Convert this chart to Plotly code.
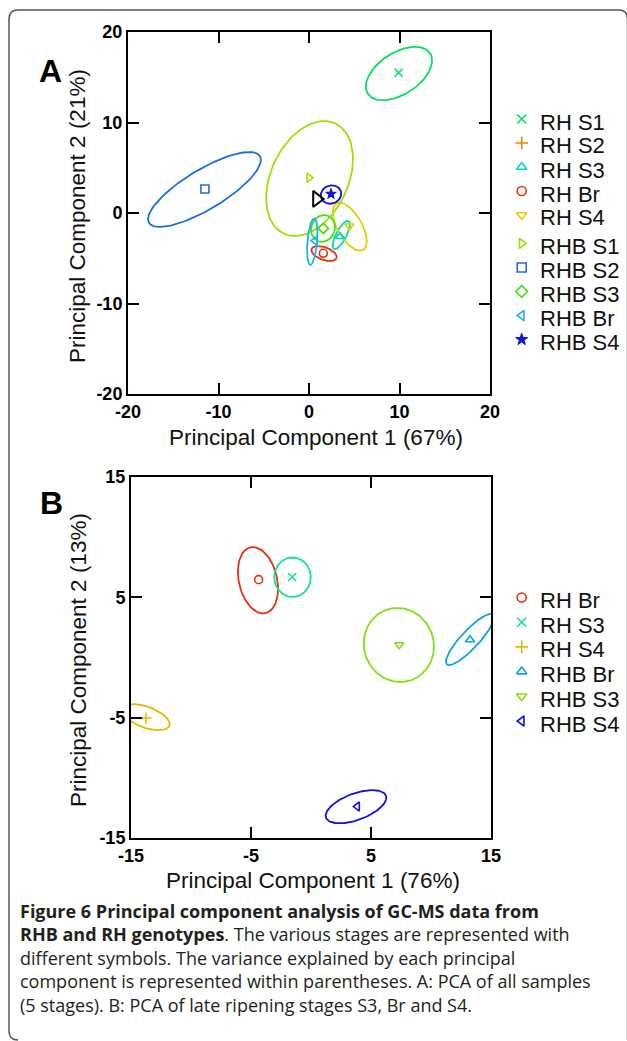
import numpy as np
import plotly.graph_objects as go

W, H = 627, 1041

# ---------------- Panel A data ----------------
A_groups = ["RH S1", "RH S2", "RH S3", "RH Br", "RH S4",
            "RHB S1", "RHB S2", "RHB S3", "RHB Br", "RHB S4"]
A_pc1 = [9.9, None, 3.43, 1.58, 4.46, 0.0, -11.5, 1.58, 0.66, 2.43]
A_pc2 = [15.5, None, -2.6, -4.45, -1.44, 3.9, 2.65, -1.7, -3.06, 2.1]
A_ell_cx = [9.94, None, 3.57, 1.66, 4.50, 0.06, -11.55, 1.55, 0.36, 2.43]
A_ell_cy = [15.41, None, -2.43, -4.48, -1.51, 3.81, 2.60, -1.71, -3.17, 2.04]
A_ell_a = [4.1, None, 1.74, 1.47, 2.96, 6.72, 7.15, 1.5, 2.58, 1.15]
A_ell_b = [2.3, None, 0.57, 0.70, 1.34, 4.27, 2.2, 1.3, 0.53, 1.0]
A_ell_deg = [33, None, 62, -20, 120, 65, 31, 70, 85, 20]
A_colors = ["#00e060", "#f08000", "#00d8c0", "#e83010", "#e0d000",
            "#a0e000", "#1a6ee0", "#40e010", "#10b8e8", "#1010e0"]
A_symbols = ["x-thin", "cross-thin", "triangle-up-open", "circle-open",
             "triangle-down-open", "triangle-right-open", "square-open",
             "diamond-open", "triangle-left-open", "star"]
A_extra_pc1 = [0.85]
A_extra_pc2 = [1.55]
A_ticks = [-20, -10, 0, 10, 20]
A_tick_labels = ["-20", "-10", "0", "10", "20"]

# ---------------- Panel B data ----------------
B_groups = ["RH Br", "RH S3", "RH S4", "RHB Br", "RHB S3", "RHB S4"]
B_pc1 = [-4.36, -1.56, -13.75, 13.25, 7.36, 3.86]
B_pc2 = [6.47, 6.69, -5.03, 1.47, 1.06, -12.39]
B_ell_cx = [-4.42, -1.54, -13.75, 13.25, 7.32, 3.75]
B_ell_cy = [6.42, 6.67, -4.96, 1.50, 1.04, -12.40]
B_ell_a = [2.81, 1.64, 2.07, 2.83, 3.1, 2.66]
B_ell_b = [1.59, 1.52, 0.87, 0.75, 2.9, 1.1]
B_ell_deg = [103, 90, -20, 47, 110, 20]
B_colors = ["#e83010", "#10e0a0", "#e8b800", "#10a0e8", "#80e010", "#1010e0"]
B_symbols = ["circle-open", "x-thin", "cross-thin", "triangle-up-open",
             "triangle-down-open", "triangle-left-open"]
B_ticks = [-15, -5, 5, 15]
B_tick_labels = ["-15", "-5", "5", "15"]

caption_lines = [
    "<b>Figure 6 Principal component analysis of GC-MS data from</b>",
    "<b>RHB and RH genotypes</b>. The various stages are represented with",
    "different symbols. The variance explained by each principal",
    "component is represented within parentheses. A: PCA of all samples",
    "(5 stages). B: PCA of late ripening stages S3, Br and S4.",
]

FONT = "Liberation Sans, Arial, sans-serif"


def px_x(p):
    return p / W


def px_y(p):
    return 1 - p / H


def ellipse(cx, cy, a, b, deg, n=120):
    t = np.linspace(0, 2 * np.pi, n)
    th = np.radians(deg)
    x = cx + a * np.cos(t) * np.cos(th) - b * np.sin(t) * np.sin(th)
    y = cy + a * np.cos(t) * np.sin(th) + b * np.sin(t) * np.cos(th)
    return x, y


fig = go.Figure()


def marker_style(sym, col, size=8):
    filled = sym == "star"
    return dict(symbol=sym, size=size, color=col,
                line=dict(color=col, width=1 if filled else 1.6))


def add_panel(xa, ya, pc1, pc2, cx, cy, aa, bb, dd, colors, symbols):
    for i in range(len(pc1)):
        if cx[i] is not None:
            ex, ey = ellipse(cx[i], cy[i], aa[i], bb[i], dd[i])
            fig.add_trace(go.Scatter(x=ex, y=ey, mode="lines", xaxis=xa, yaxis=ya,
                                     line=dict(color=colors[i], width=1.8),
                                     showlegend=False, hoverinfo="skip"))
    for i in range(len(pc1)):
        fig.add_trace(go.Scatter(
            x=[pc1[i]], y=[pc2[i]], mode="markers", xaxis=xa, yaxis=ya,
            marker=marker_style(symbols[i], colors[i]), showlegend=False))


add_panel("x", "y", A_pc1, A_pc2, A_ell_cx, A_ell_cy, A_ell_a, A_ell_b,
          A_ell_deg, A_colors, A_symbols)
fig.add_trace(go.Scatter(x=A_extra_pc1, y=A_extra_pc2, mode="markers",
                         xaxis="x", yaxis="y",
                         marker=dict(symbol="triangle-right-open", size=14,
                                     color="black", line=dict(color="black", width=2)),
                         showlegend=False))
add_panel("x2", "y2", B_pc1, B_pc2, B_ell_cx, B_ell_cy, B_ell_a, B_ell_b,
          B_ell_deg, B_colors, B_symbols)

annotations = []


def add_legend(groups, colors, symbols, y0, step, gap_after=None, gap=0):
    y = y0
    for i, g in enumerate(groups):
        if gap_after is not None and i == gap_after:
            y += gap
        fig.add_trace(go.Scatter(
            x=[521.7], y=[y - 3], mode="markers", xaxis="x3", yaxis="y3",
            marker=marker_style(symbols[i], colors[i], size=9),
            showlegend=False, hoverinfo="skip"))
        annotations.append(dict(x=px_x(538), y=px_y(y), xref="paper", yref="paper",
                                text=g, showarrow=False, xanchor="left",
                                yanchor="middle",
                                font=dict(family=FONT, size=22, color="#111")))
        y += step


add_legend(A_groups, A_colors, A_symbols, 122, 24, gap_after=5, gap=4.5)
add_legend(B_groups, B_colors, B_symbols, 600.5, 24.7)

# panel letters
annotations.append(dict(x=px_x(37), y=px_y(51), xref="paper", yref="paper", text="<b>A</b>",
                        showarrow=False, font=dict(family=FONT, size=32, color="black")))
annotations.append(dict(x=px_x(38), y=px_y(503), xref="paper", yref="paper", text="<b>B</b>",
                        showarrow=False, font=dict(family=FONT, size=32, color="black")))

# axis titles
for (xc, yc, txt, ang) in [(316, 437, "Principal Component 1 (67%)", 0),
                           (78, 216, "Principal Component 2 (21%)", -90),
                           (313, 880, "Principal Component 1 (76%)", 0),
                           (78, 660, "Principal Component 2 (13%)", -90)]:
    annotations.append(dict(x=px_x(xc), y=px_y(yc), xref="paper", yref="paper", text=txt,
                            textangle=ang, showarrow=False, xanchor="center",
                            yanchor="middle",
                            font=dict(family=FONT, size=22.5, color="#111")))

# caption (one multi-line block)
annotations.append(dict(x=px_x(18), y=px_y(958), xref="paper", yref="paper",
                        text="<br>".join(caption_lines), showarrow=False,
                        xanchor="left", yanchor="middle", align="left",
                        font=dict(family="Open Sans, sans-serif", size=18,
                                  color="#231f20")))

axis_common = dict(showline=True, linewidth=2, linecolor="black", mirror="ticks",
                   ticks="inside", ticklen=11, tickwidth=2, tickcolor="black",
                   showgrid=False, zeroline=False, automargin=False,
                   tickfont=dict(family=FONT, size=18, color="black", weight="bold"))

layout = dict(
    width=W, height=H, margin=dict(l=0, r=0, t=0, b=0, pad=0),
    paper_bgcolor="white", plot_bgcolor="rgba(0,0,0,0)", showlegend=False,
    xaxis=dict(domain=[px_x(128), px_x(490)], range=[-20, 20], tickvals=A_ticks,
               ticktext=A_tick_labels, anchor="y", **axis_common),
    yaxis=dict(domain=[px_y(394), px_y(32)], range=[-20, 20], tickvals=A_ticks,
               ticktext=A_tick_labels, anchor="x", **axis_common),
    xaxis2=dict(domain=[px_x(131), px_x(491)], range=[-15, 15], tickvals=B_ticks,
                ticktext=B_tick_labels, anchor="y2", **axis_common),
    yaxis2=dict(domain=[px_y(838), px_y(477)], range=[-15, 15], tickvals=B_ticks,
                ticktext=B_tick_labels, anchor="x2", **axis_common),
    xaxis3=dict(domain=[0, 1], range=[0, W], visible=False, anchor="y3",
                automargin=False),
    yaxis3=dict(domain=[0, 1], range=[H, 0], visible=False, anchor="x3",
                automargin=False),
    annotations=annotations,
)

# rounded card border
x0, x1, y0, y1, r = 9, 627.5, 10, 1040, 9
path = (f"M {px_x(x0 + r)},{px_y(y1)} Q {px_x(x0)},{px_y(y1)} {px_x(x0)},{px_y(y1 - r)} "
        f"L {px_x(x0)},{px_y(y0 + r)} "
        f"Q {px_x(x0)},{px_y(y0)} {px_x(x0 + r)},{px_y(y0)} "
        f"L {px_x(x1 - r)},{px_y(y0)} Q {px_x(x1)},{px_y(y0)} {px_x(x1)},{px_y(y0 + r)} "
        f"L {px_x(x1)},{px_y(y1)}")
layout["shapes"] = [dict(type="path", path=path, xref="paper", yref="paper",
                         line=dict(color="#555", width=1.5))]

fig.update_layout(**layout)
fig.write_html(
    "out.html",
    config={"displayModeBar": False},
    post_script=("document.body.style.margin='0';"
                 "document.body.style.overflow='hidden';"
                 "document.documentElement.style.overflow='hidden';"),
)
